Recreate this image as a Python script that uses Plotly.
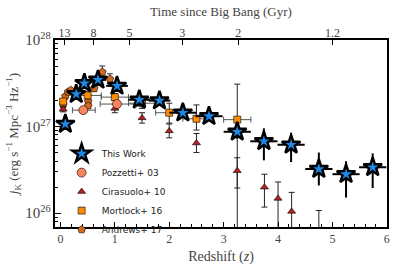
import numpy as np
import plotly.graph_objects as go

# ---- data (log10 of j_K in erg s^-1 Mpc^-3 Hz^-1) ----
tw_z = [0.09, 0.29, 0.44, 0.69, 1.04, 1.45, 1.82, 2.25, 2.73, 3.25, 3.74, 4.24, 4.75, 5.25, 5.74]
tw_log = [27.03, 27.375, 27.50, 27.54, 27.47, 27.31, 27.30, 27.16, 27.12, 26.94, 26.83, 26.79, 26.51, 26.45, 26.53]
tw_zerr = [0.1, 0.1, 0.1, 0.15, 0.2, 0.2, 0.2, 0.25, 0.25, 0.25, 0.25, 0.25, 0.25, 0.25, 0.25]
tw_eup = [0.03, 0.03, 0.03, 0.03, 0.03, 0.04, 0.04, 0.05, 0.05, 0.06, 0.15, 0.14, 0.19, 0.15, 0.16]
tw_edn = [0.03, 0.03, 0.03, 0.03, 0.03, 0.04, 0.04, 0.05, 0.05, 0.08, 0.22, 0.20, 0.19, 0.27, 0.24]

poz_z = [0.42, 1.04]
poz_log = [27.19, 27.26]
poz_zlo = [0.2, 0.31]
poz_zhi = [0.22, 0.48]
poz_e = [0.03, 0.03]

cir_z = [0.05, 1.0, 1.5, 2.0, 2.5, 3.25, 3.75, 4.0, 4.25, 4.75]
cir_log = [27.20, 27.21, 27.10, 26.95, 26.81, 26.49, 26.30, 26.17, 26.02, 25.70]
cir_eup = [0.03, 0.05, 0.06, 0.08, 0.11, 0.15, 0.15, 0.19, 0.22, 0.33]
cir_edn = [0.03, 0.05, 0.06, 0.08, 0.11, 0.20, 0.23, 0.40, 0.40, 0.40]

mor_z = [0.05, 0.5, 1.0, 1.5, 2.0, 2.5, 3.25]
mor_log = [27.29, 27.36, 27.34, 27.27, 27.16, 27.09, 27.08]
mor_zerr = [0.05, 0.25, 0.25, 0.25, 0.25, 0.25, 0.25]
mor_eup = [0.03, 0.04, 0.04, 0.06, 0.11, 0.16, 0.41]
mor_edn = [0.03, 0.04, 0.04, 0.06, 0.12, 0.13, 1.50]

and_z = [0.05, 0.09, 0.14, 0.19, 0.51, 0.51, 0.62, 0.77, 0.91]
and_log = [27.25, 27.35, 27.40, 27.42, 27.29, 27.24, 27.44, 27.63, 27.55]
and_eup = [0.02, 0.02, 0.02, 0.02, 0.03, 0.03, 0.03, 0.07, 0.06]
and_edn = [0.02, 0.02, 0.02, 0.02, 0.03, 0.03, 0.03, 0.07, 0.05]

age_labels = ["13", "8", "5", "3", "2", "1.2"]
age_z = [0.073, 0.61, 1.27, 2.24, 3.27, 5.0]


def lin(logv, eup, edn):
    logv = np.array(logv)
    y = 10 ** logv
    return y, 10 ** (logv + np.array(eup)) - y, y - 10 ** (logv - np.array(edn))


FONT = "Liberation Serif"
XR = [-0.1, 6.003]
fig = go.Figure()

y, ep, em = lin(and_log, and_eup, and_edn)
fig.add_trace(go.Scatter(x=and_z, y=y, mode="markers", name="Andrews+ 17",
    marker=dict(symbol="pentagon", size=8, color="#D2691E", line=dict(color="black", width=0.6)),
    error_y=dict(type="data", symmetric=False, array=ep, arrayminus=em, color="#333", thickness=1, width=3)))

y, ep, em = lin(mor_log, mor_eup, mor_edn)
fig.add_trace(go.Scatter(x=mor_z, y=y, mode="markers", name="Mortlock+ 16",
    marker=dict(symbol="square", size=7, color="#FF8C00", line=dict(color="black", width=0.6)),
    error_x=dict(type="data", array=mor_zerr, color="#555", thickness=1, width=3),
    error_y=dict(type="data", symmetric=False, array=ep, arrayminus=em, color="#222", thickness=1, width=3)))

y, ep, em = lin(cir_log, cir_eup, cir_edn)
fig.add_trace(go.Scatter(x=cir_z, y=y, mode="markers", name="Cirasuolo+ 10",
    marker=dict(symbol="triangle-up", size=7, color="#B22222", line=dict(color="black", width=0.6)),
    error_y=dict(type="data", symmetric=False, array=ep, arrayminus=em, color="#222", thickness=1, width=3)))

y, ep, em = lin(poz_log, poz_e, poz_e)
fig.add_trace(go.Scatter(x=poz_z, y=y, mode="markers", name="Pozzetti+ 03",
    marker=dict(symbol="circle", size=9, color="#F98462", line=dict(color="black", width=0.6)),
    error_x=dict(type="data", symmetric=False, array=poz_zhi, arrayminus=poz_zlo, color="#555", thickness=1, width=3),
    error_y=dict(type="data", symmetric=True, array=ep, color="#222", thickness=1, width=3)))

y, ep, em = lin(tw_log, tw_eup, tw_edn)
fig.add_trace(go.Scatter(x=tw_z, y=y, mode="markers", name="This Work",
    marker=dict(symbol="star", size=14, color="#1E88E5", line=dict(color="black", width=2.4)),
    error_x=dict(type="data", array=tw_zerr, color="black", thickness=2, width=0),
    error_y=dict(type="data", symmetric=False, array=ep, arrayminus=em, color="black", thickness=2, width=0)))

# invisible trace to anchor top axis
fig.add_trace(go.Scatter(x=[age_z[0]], y=[1e27], xaxis="x2", mode="markers",
    marker=dict(opacity=0), showlegend=False, hoverinfo="skip"))

fig.update_layout(
    width=394, height=272,
    margin=dict(l=55, r=7, t=40, b=45),
    paper_bgcolor="white", plot_bgcolor="white",
    font=dict(family=FONT, size=11, color="#333"),
    showlegend=True,
    legend=dict(x=0.02, y=0.47, xanchor="left", yanchor="top", bgcolor="rgba(0,0,0,0)",
                font=dict(family="DejaVu Sans", size=9, color="#222"), traceorder="reversed",
                itemsizing="trace", tracegroupgap=0, itemwidth=30),
    xaxis=dict(range=XR, showline=True, linecolor="black", linewidth=1.5, mirror=True,
               automargin=False, ticklabeloverflow="allow",
               ticks="inside", ticklen=5, tickcolor="black", dtick=1, tick0=0, showgrid=False, zeroline=False,
               minor=dict(ticks="inside", ticklen=3, dtick=0.2, tickcolor="black"),
               tickfont=dict(family=FONT, size=12, color="#444"),
               title=dict(text="Redshift (<i>z</i>)", font=dict(family=FONT, size=14, color="#444"), standoff=6)),
    xaxis2=dict(range=XR, overlaying="x", side="top", tickmode="array", tickvals=age_z,
                automargin=False, ticklabeloverflow="allow",
                ticktext=age_labels, ticks="inside", ticklen=5, tickcolor="black", showgrid=False,
                zeroline=False, showline=False,
                tickfont=dict(family=FONT, size=12, color="#444"),
                title=dict(text="Time since Big Bang (Gyr)", font=dict(family=FONT, size=13, color="#444"), standoff=6)),
    yaxis=dict(type="log", range=[25.84, 28.0], showline=True, linecolor="black", linewidth=1.5, mirror=True,
               automargin=False,
               ticks="inside", ticklen=6, tickcolor="black", dtick=1, exponentformat="power",
               showgrid=False, zeroline=False,
               minor=dict(ticks="inside", ticklen=3, tickcolor="black", showgrid=False),
               tickfont=dict(family=FONT, size=12, color="#444"),
               title=dict(text="<i>j</i><sub>K</sub> (erg s<sup>−1</sup> Mpc<sup>−3</sup> Hz<sup>−1</sup>)",
                          font=dict(family=FONT, size=13, color="#444"), standoff=4)),
)

fig.write_html("out.html", config={"displayModeBar": False},
               post_script="document.body.style.margin='0';document.body.style.overflow='hidden';")
